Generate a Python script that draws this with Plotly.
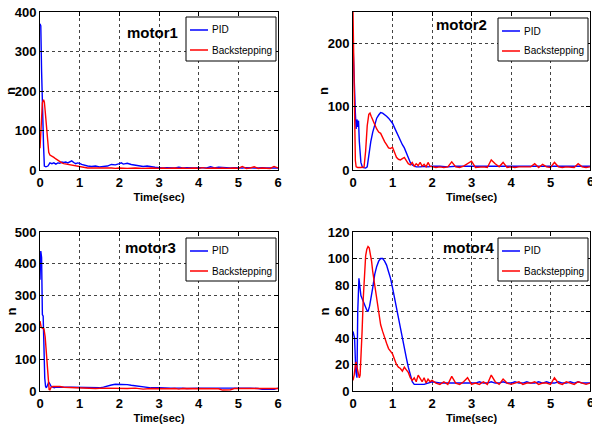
import plotly.graph_objects as go

# ---------------- data ----------------
tail_t = [round(3.1 + 0.1 * i, 1) for i in range(30)]  # 3.1 .. 6.0 grid

# motor1
m1_pid_t = [0, 0.02, 0.04, 0.05, 0.07, 0.09, 0.11, 0.15, 0.2, 0.25, 0.3, 0.35, 0.4, 0.45, 0.5, 0.55,
            0.6, 0.65, 0.7, 0.75, 0.8, 0.85, 0.9, 0.95, 1.0, 1.05, 1.1, 1.2, 1.3, 1.4, 1.5, 1.6, 1.7,
            1.8, 1.9, 2.0, 2.05, 2.1, 2.2, 2.3, 2.4, 2.5, 2.6, 2.7, 2.8, 2.9, 3.0] + tail_t
m1_pid_y = [370, 365, 250, 190, 180, 60, 10, 8, 10, 18, 16, 18, 15, 18, 17, 20,
            19, 20, 18, 21, 23, 19, 16, 18, 17, 14, 12, 10, 9, 10, 8, 9, 10,
            14, 13, 16, 18, 15, 17, 14, 12, 10, 9, 10, 8, 7, 6] + \
           [5, 6, 5, 5, 7, 5, 6, 5, 5, 6, 5, 5, 8, 5, 7, 6, 5, 5, 6, 5, 5, 6, 5, 5, 5, 6, 5, 5, 6, 5]

m1_bs_t = [0, 0.03, 0.06, 0.09, 0.11, 0.13, 0.16, 0.19, 0.22, 0.25, 0.3, 0.35, 0.4, 0.45, 0.5, 0.55,
           0.6, 0.7, 0.8, 0.9, 1.0, 1.1, 1.2, 1.3, 1.5, 1.7, 1.8, 1.9, 2.0, 2.2, 2.4, 2.6, 2.8, 3.0] + tail_t
m1_bs_y = [55, 120, 170, 178, 172, 150, 110, 70, 45, 38, 36, 32, 28, 24, 20, 18,
           16, 14, 13, 10, 8, 6, 5, 5, 5, 6, 5, 4, 5, 4, 5, 4, 5, 4] + \
          [5, 4, 5, 5, 4, 5, 4, 5, 5, 4, 6, 4, 5, 5, 4, 5, 4, 5, 5, 4, 9, 4, 5, 8, 4, 5, 5, 4, 9, 5]

# motor2
m2_pid_t = [0, 0.02, 0.04, 0.06, 0.08, 0.10, 0.12, 0.14, 0.16, 0.2, 0.24, 0.28, 0.32, 0.36, 0.4, 0.45,
            0.5, 0.55, 0.6, 0.65, 0.7, 0.75, 0.8, 0.85, 0.9, 0.95, 1.0, 1.05, 1.1, 1.15, 1.2, 1.25,
            1.3, 1.35, 1.4, 1.45, 1.5, 1.55, 1.6, 1.7, 1.8, 1.9, 2.0, 2.2, 2.4, 2.6, 2.8, 3.0] + tail_t
m2_pid_y = [200, 150, 115, 90, 65, 80, 68, 78, 45, 12, 4, 3, 3, 5, 25, 45,
            60, 72, 82, 87, 91, 90, 88, 85, 82, 78, 74, 67, 60, 52, 45, 40,
            35, 28, 20, 12, 8, 6, 5, 5, 6, 5, 6, 6, 5, 6, 6, 5] + \
           [6, 6, 5, 6, 6, 6, 5, 6, 6, 6, 5, 6, 6, 6, 6, 5, 6, 6, 6, 5, 6, 6, 6, 6, 5, 6, 6, 5, 6, 6]

m2_bs_t = [0, 0.02, 0.04, 0.06, 0.08, 0.12, 0.2, 0.28, 0.32, 0.36, 0.4, 0.43, 0.46, 0.5, 0.55, 0.6,
           0.65, 0.7, 0.75, 0.8, 0.85, 0.9, 0.95, 1.0, 1.05, 1.1, 1.15, 1.2, 1.25, 1.3, 1.35, 1.4,
           1.45, 1.5, 1.55, 1.6, 1.65, 1.7, 1.75, 1.8, 1.85, 1.9, 1.95, 2.0,
           2.1, 2.2, 2.3, 2.4, 2.5, 2.6, 2.7, 2.8, 2.9, 3.0] + tail_t
m2_bs_y = [250, 150, 60, 15, 5, 4, 4, 5, 30, 70, 88, 90, 85, 78, 72, 65,
           60, 58, 50, 45, 40, 35, 34, 36, 28, 20, 17, 16, 18, 20, 15, 10,
           8, 12, 6, 10, 7, 12, 6, 9, 5, 12, 6, 5,
           4, 5, 4, 5, 13, 5, 4, 6, 10, 14] + \
          [4, 5, 5, 4, 16, 10, 5, 12, 4, 5, 4, 5, 5, 4, 5, 10, 4, 9, 5, 4, 12, 5, 4, 5, 5, 4, 10, 5, 4, 5]

# motor3
m3_pid_t = [0, 0.02, 0.04, 0.06, 0.08, 0.1, 0.12, 0.14, 0.16, 0.19, 0.22, 0.25, 0.28, 0.32, 0.36,
            0.4, 0.5, 0.6, 0.8, 1.0, 1.2, 1.4, 1.5, 1.6, 1.7, 1.8, 1.9, 2.0, 2.1, 2.2, 2.3, 2.4,
            2.5, 2.6, 2.8, 3.0] + tail_t
m3_pid_y = [350, 440, 420, 240, 235, 120, 40, 15, 10, 18, 28, 22, 15, 12, 10,
            12, 13, 12, 12, 11, 10, 10, 10, 12, 16, 19, 21, 21, 21, 20, 18, 16,
            14, 12, 10, 10] + \
           [9, 10, 9, 9, 10, 9, 8, 9, 10, 9, 9, 8, 9, 9, 8, 9, 9, 8, 9, 9, 8, 9, 9, 9, 8, 5, 5, 5, 5, 9]

m3_bs_t = [0, 0.03, 0.06, 0.1, 0.13, 0.16, 0.19, 0.21, 0.23, 0.25, 0.28, 0.32, 0.4, 0.5, 0.6, 0.8,
           1.0, 1.2, 1.4, 1.6, 1.8, 2.0, 2.2, 2.4, 2.6, 2.8, 3.0] + tail_t
m3_bs_y = [220, 200, 198, 195, 170, 120, 60, 20, 5, 4, 12, 14, 15, 14, 12, 11,
           8, 9, 8, 9, 8, 7, 8, 9, 6, 8, 7] + \
          [8, 8, 7, 8, 6, 8, 8, 7, 8, 6, 8, 7, 8, 8, 7, 3, 3, 4, 8, 8, 7, 8, 8, 7, 8, 8, 7, 8, 8, 8]

# motor4
m4_pid_t = [0, 0.04, 0.07, 0.1, 0.12, 0.15, 0.2, 0.25, 0.3, 0.35, 0.38, 0.42, 0.5, 0.55, 0.6, 0.65,
            0.7, 0.75, 0.8, 0.85, 0.9, 0.95, 1.0, 1.05, 1.1, 1.15, 1.2, 1.25, 1.3, 1.35, 1.4, 1.45,
            1.5, 1.55, 1.6, 1.7, 1.8, 1.9, 2.0, 2.2, 2.4, 2.6, 2.8, 3.0] + tail_t
m4_pid_y = [45, 40, 15, 10, 60, 85, 72, 68, 65, 61, 60, 64, 78, 88, 94, 98,
            100, 100, 98, 95, 90, 85, 78, 70, 62, 55, 47, 40, 32, 25, 18, 12,
            7, 5, 5, 5, 5, 6, 7, 6, 6, 6, 6, 6] + \
           [6, 7, 6, 6, 7, 6, 6, 7, 6, 6, 7, 6, 6, 7, 6, 6, 7, 6, 7, 6, 6, 7, 6, 6, 7, 6, 7, 6, 6, 6]

m4_bs_t = [0, 0.03, 0.06, 0.08, 0.1, 0.13, 0.16, 0.18, 0.2, 0.23, 0.26, 0.29, 0.32, 0.35, 0.38, 0.41,
           0.44, 0.47, 0.5, 0.55, 0.6, 0.65, 0.7, 0.75, 0.8, 0.85, 0.9, 0.95, 1.0, 1.05, 1.1, 1.15,
           1.2, 1.25, 1.3, 1.35, 1.4, 1.45, 1.5, 1.55, 1.6, 1.65, 1.7, 1.75, 1.8, 1.85, 1.9, 1.95, 2.0,
           2.1, 2.2, 2.3, 2.4, 2.5, 2.6, 2.7, 2.8, 2.9, 3.0] + tail_t
m4_bs_y = [8, 12, 20, 22, 18, 14, 10, 12, 22, 45, 70, 90, 102, 107, 109, 108,
           104, 98, 90, 80, 68, 58, 50, 45, 40, 36, 32, 30, 28, 24, 20, 18,
           17, 15, 18, 16, 14, 10, 8, 10, 7, 12, 9, 7, 10, 6, 9, 7, 8,
           6, 5, 7, 5, 11, 6, 5, 7, 10, 5] + \
          [6, 5, 7, 5, 12, 7, 5, 9, 6, 5, 6, 7, 5, 6, 6, 7, 5, 6, 6, 5, 10, 6, 5, 7, 6, 5, 7, 6, 5, 6]

series_names = ["PID", "Backstepping"]
series_colors = ["#0000FF", "#FF0000"]
x_ticks = [0, 1, 2, 3, 4, 5, 6]
panels = [
    dict(name="motor1", pid=(m1_pid_t, m1_pid_y), bs=(m1_bs_t, m1_bs_y), yr=[0, 400], yt=[0, 100, 200, 300, 400]),
    dict(name="motor2", pid=(m2_pid_t, m2_pid_y), bs=(m2_bs_t, m2_bs_y), yr=[0, 250], yt=[0, 100, 200]),
    dict(name="motor3", pid=(m3_pid_t, m3_pid_y), bs=(m3_bs_t, m3_bs_y), yr=[0, 500], yt=[0, 100, 200, 300, 400, 500]),
    dict(name="motor4", pid=(m4_pid_t, m4_pid_y), bs=(m4_bs_t, m4_bs_y), yr=[0, 120], yt=[0, 20, 40, 60, 80, 100, 120]),
]

# ---------------- layout geometry (pixels) ----------------
W, H = 592, 431
boxes = [(40, 278, 12, 170), (353, 590, 12, 170), (40, 278, 232, 391), (353, 590, 232, 391)]
legend_boxes = [(186, 276, 17, 61), (498, 588, 18, 61), (186, 276, 238, 281), (498, 588, 238, 281)]
title_pos = [(152, 32), (461, 25), (150, 247), (468, 247)]
ylabel_x = [11, 324, 11, 324]

FONT = "Liberation Sans, Arial, sans-serif"
TICKFONT = dict(family=FONT, size=13, color="black", weight="bold")


def px(x):
    return x / W


def py(y):
    return 1 - y / H


fig = go.Figure()
layout = dict(width=W, height=H, margin=dict(l=0, r=0, t=0, b=0), showlegend=False,
              paper_bgcolor="white", plot_bgcolor="white", annotations=[], shapes=[])

for i, p in enumerate(panels):
    k = "" if i == 0 else str(i + 1)
    x0, x1, y0, y1 = boxes[i]
    for (tt, yy), nm, col in zip([p["pid"], p["bs"]], series_names, series_colors):
        fig.add_trace(go.Scatter(x=tt, y=yy, mode="lines", name=nm,
                                 line=dict(color=col, width=1.4), xaxis="x" + k, yaxis="y" + k))
    common = dict(showline=True, linecolor="black", linewidth=1, mirror="ticks", ticks="inside",
                  ticklen=4, tickcolor="black", showgrid=True, gridcolor="#444444", griddash="dot",
                  gridwidth=1, zeroline=False, automargin=False, tickfont=TICKFONT)
    layout["xaxis" + k] = dict(common, domain=[px(x0), px(x1)], anchor="y" + k, range=[0, 6],
                               tickvals=x_ticks, ticktext=[str(v) for v in x_ticks],
                               title=dict(text="Time(sec)", standoff=4,
                                          font=dict(family=FONT, size=11, color="black", weight="bold")))
    layout["yaxis" + k] = dict(common, domain=[py(y1), py(y0)], anchor="x" + k, range=p["yr"],
                               tickvals=p["yt"], ticktext=[str(v) for v in p["yt"]])
    # right-panel last tick label runs off the page edge (partly visible in the original)
    if i in (1, 3):
        layout["annotations"].append(dict(text=str(x_ticks[-1]), x=x_ticks[-1], xref="x" + k,
                                          y=0, yref="y" + k + " domain", yanchor="top", yshift=-2,
                                          xanchor="center", showarrow=False, font=TICKFONT))
    # y label
    layout["annotations"].append(dict(text="n", x=px(ylabel_x[i]), y=py((y0 + y1) / 2), xref="paper", yref="paper",
                                      xanchor="center", yanchor="middle", showarrow=False, textangle=-90,
                                      font=dict(family=FONT, size=13, color="black", weight="bold")))
    # panel title
    tx, ty = title_pos[i]
    layout["annotations"].append(dict(text=p["name"], x=px(tx), y=py(ty), xref="paper", yref="paper",
                                      xanchor="center", yanchor="middle", showarrow=False,
                                      font=dict(family=FONT, size=15, color="black", weight="bold")))
    # legend box
    lx0, lx1, ly0, ly1 = legend_boxes[i]
    layout["shapes"].append(dict(type="rect", xref="paper", yref="paper", x0=px(lx0), x1=px(lx1),
                                 y0=py(ly1), y1=py(ly0), fillcolor="white",
                                 line=dict(color="black", width=1), layer="above"))
    for j, (nm, col) in enumerate(zip(series_names, series_colors)):
        ry = ly0 + 13 + 20 * j
        layout["shapes"].append(dict(type="line", xref="paper", yref="paper", x0=px(lx0 + 4), x1=px(lx0 + 22),
                                     y0=py(ry), y1=py(ry), line=dict(color=col, width=1.5), layer="above"))
        layout["annotations"].append(dict(text=nm, x=px(lx0 + 24), y=py(ry), xref="paper", yref="paper",
                                          xanchor="left", yanchor="middle", showarrow=False,
                                          font=dict(family=FONT, size=10, color="black")))

fig.update_layout(**layout)
fig.write_html("out.html", config={"displayModeBar": False},
               post_script="document.body.style.margin='0';document.body.style.overflow='hidden';")
